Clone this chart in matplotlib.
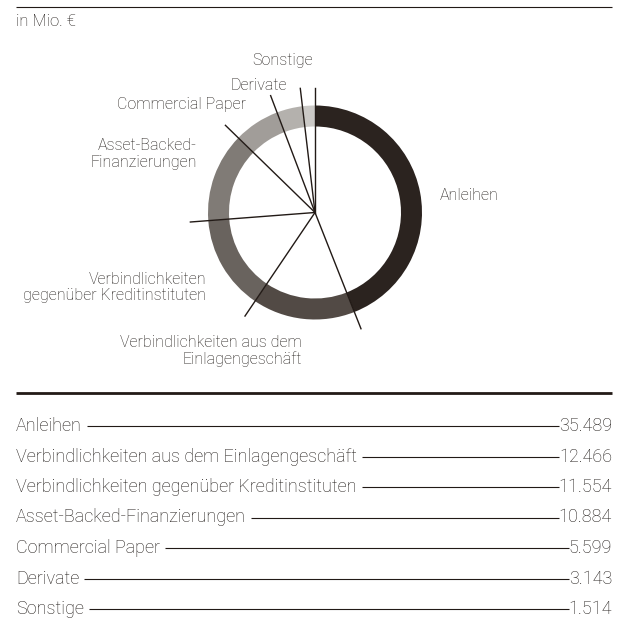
import matplotlib
matplotlib.use("Agg")
import matplotlib.pyplot as plt
import numpy as np

plt.rcParams["font.family"] = ["Roboto", "DejaVu Sans"]
plt.rcParams["font.weight"] = "light"

# data (Mio. EUR)
categories = [
    "Anleihen",
    "Verbindlichkeiten aus dem Einlagengeschäft",
    "Verbindlichkeiten gegenüber Kreditinstituten",
    "Asset-Backed-Finanzierungen",
    "Commercial Paper",
    "Derivate",
    "Sonstige",
]
values = [35489, 12466, 11554, 10884, 5599, 3143, 1514]
value_labels = ["35.489", "12.466", "11.554", "10.884", "5.599", "3.143", "1.514"]
ring_labels = [
    "Anleihen",
    "Verbindlichkeiten aus dem\nEinlagengeschäft",
    "Verbindlichkeiten\ngegenüber Kreditinstituten",
    "Asset-Backed-\nFinanzierungen",
    "Commercial Paper",
    "Derivate",
    "Sonstige",
]

# styling
colors = ["#2b231f", "#524a45", "#69635e", "#807b76", "#a19d99", "#b4b1ad", "#cbc9c6"]
TXT = "#1f1a17"
LINE = "#221a16"
W, H = 617, 634
FS_RING = 11.5
FS_TAB = 13

# label anchors in pixels (x, y, horizontal alignment)
label_pos = [
    (440, 196, "left"),
    (302, 351, "right"),
    (206, 287.5, "right"),
    (197, 154, "right"),
    (246, 105, "right"),
    (287, 86, "right"),
    (313, 61, "right"),
]

fig = plt.figure(figsize=(W / 100, H / 100), dpi=100)
bg = fig.add_axes([0, 0, 1, 1])
bg.set_xlim(0, W)
bg.set_ylim(H, 0)
bg.axis("off")

# header
bg.plot([16, 612], [7, 7], color=LINE, lw=0.8, solid_capstyle="butt")
bg.text(16, 22, "in Mio. €", fontsize=12, color=TXT, va="center", ha="left")

# donut
cx, cy, half = 315, 212.5, 130
pie_ax = fig.add_axes([(cx - half) / W, 1 - (cy + half) / H, 2 * half / W, 2 * half / H])
pie_ax.pie(values, colors=colors, startangle=90, counterclock=False, radius=1.07,
           wedgeprops=dict(width=0.21, linewidth=0))
pie_ax.set_xlim(-1.3, 1.3)
pie_ax.set_ylim(-1.3, 1.3)
pie_ax.set_aspect("equal")
pie_ax.axis("off")

# leader lines along each segment boundary
total = sum(values)
edges = 90 - 360 * np.concatenate([[0], np.cumsum(values)[:-1]]) / total
for ang in edges:
    a = np.deg2rad(ang)
    pie_ax.plot([0, 1.25 * np.cos(a)], [0, 1.25 * np.sin(a)], color=LINE, lw=1.0)

for lab, (x, y, ha) in zip(ring_labels, label_pos):
    bg.text(x, y, lab, fontsize=FS_RING, color=TXT, ha=ha, va="center", linespacing=1.15)

# table
bg.plot([16, 612], [392.5, 392.5], color=LINE, lw=2.0, solid_capstyle="butt")
row_y = 426 + 30.5 * np.arange(len(categories))
name_txt = []
val_txt = []
for name, vl, y in zip(categories, value_labels, row_y):
    name_txt.append(bg.text(16, y, name, fontsize=FS_TAB, color=TXT, ha="left", va="center"))
    val_txt.append(bg.text(612, y, vl, fontsize=FS_TAB, color=TXT, ha="right", va="center"))

fig.canvas.draw()
r = fig.canvas.get_renderer()
inv = bg.transData.inverted()
for t1, t2, y in zip(name_txt, val_txt, row_y):
    x1 = inv.transform((t1.get_window_extent(r).x1, 0))[0] + 5
    x2 = inv.transform((t2.get_window_extent(r).x0, 0))[0]
    bg.plot([x1, x2], [y, y], color=LINE, lw=0.8, solid_capstyle="butt")

fig.savefig("out.png", dpi=100)
